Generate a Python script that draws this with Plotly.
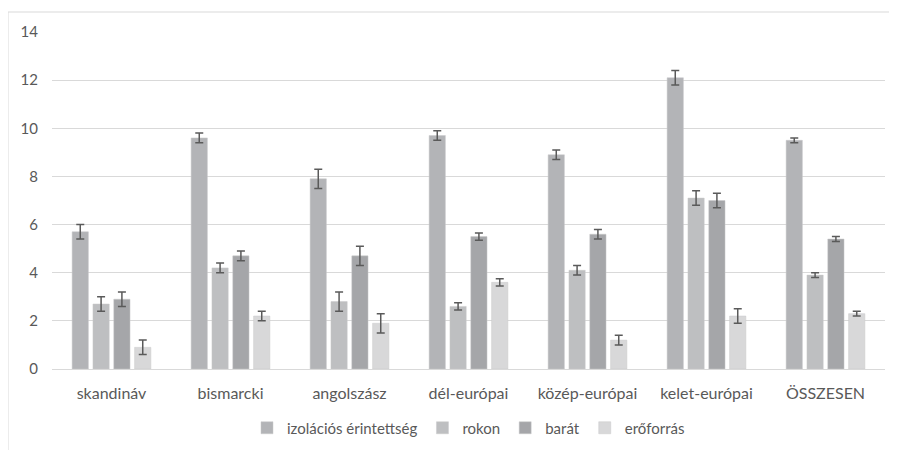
import plotly.graph_objects as go

categories = ["skandináv", "bismarcki", "angolszász", "dél-európai", "közép-európai", "kelet-európai", "ÖSSZESEN"]
series_names = ["izolációs érintettség", "rokon", "barát", "erőforrás"]
izolacios = [5.7, 9.6, 7.9, 9.7, 8.9, 12.1, 9.5]
izolacios_err = [0.3, 0.2, 0.4, 0.2, 0.2, 0.3, 0.1]
rokon = [2.7, 4.2, 2.8, 2.6, 4.1, 7.1, 3.9]
rokon_err = [0.3, 0.2, 0.4, 0.15, 0.2, 0.3, 0.1]
barat = [2.9, 4.7, 4.7, 5.5, 5.6, 7.0, 5.4]
barat_err = [0.3, 0.2, 0.4, 0.15, 0.2, 0.3, 0.1]
eroforras = [0.9, 2.2, 1.9, 3.6, 1.2, 2.2, 2.3]
eroforras_err = [0.3, 0.2, 0.4, 0.15, 0.2, 0.3, 0.1]
y_ticks = [0, 2, 4, 6, 8, 10, 12, 14]

values = [izolacios, rokon, barat, eroforras]
errors = [izolacios_err, rokon_err, barat_err, eroforras_err]
colors = ["#b3b4b7", "#bebfc1", "#a5a6a9", "#d8d8d9"]

font_family = "Lato, Open Sans, sans-serif"
text_color = "#595959"

# page body adds an 8px offset; margins compensate for it
L, T, PW, PH = 44, 24, 833, 337
W, H = 897, 450

fig = go.Figure()
for name, v, e, c in zip(series_names, values, errors, colors):
    fig.add_trace(go.Bar(
        x=categories, y=v, name=name,
        marker=dict(color=c, line=dict(color="#c9c9cb", width=0.5)),
        error_y=dict(type="data", array=e, visible=True, color="#5a5a5a", thickness=1.5, width=4),
    ))

fig.update_layout(
    width=W, height=H,
    margin=dict(l=L, r=W - L - PW, t=T, b=H - T - PH, autoexpand=False),
    paper_bgcolor="white", plot_bgcolor="white",
    barmode="group", bargap=0.3, bargroupgap=0.22,
    font=dict(family=font_family, size=15, color=text_color),
    showlegend=True,
    legend=dict(orientation="h", x=0.5, xanchor="center", y=-(420 - T - PH) / PH, yanchor="middle",
                font=dict(size=15, color=text_color), itemwidth=30, traceorder="normal"),
    xaxis=dict(showgrid=False, showline=True, linecolor="#d9d9d9", linewidth=1.2, automargin=False,
               ticks="", tickfont=dict(size=16, color=text_color), ticklabelstandoff=10),
    yaxis=dict(range=[0, 14], tickvals=y_ticks, showgrid=True, gridcolor="#d9d9d9", gridwidth=1.2,
               automargin=False,
               zeroline=False, showline=False, ticks="", tickfont=dict(size=15, color=text_color),
               ticklabelstandoff=13),
    shapes=[dict(type="rect", xref="paper", yref="paper",
                 x0=(0 - L) / PW, x1=1.2, y0=-0.4, y1=1 + (T - 4) / PH,
                 line=dict(color="#d9d9d9", width=1), fillcolor="rgba(0,0,0,0)", layer="below")],
)

fig.write_html("out.html")
